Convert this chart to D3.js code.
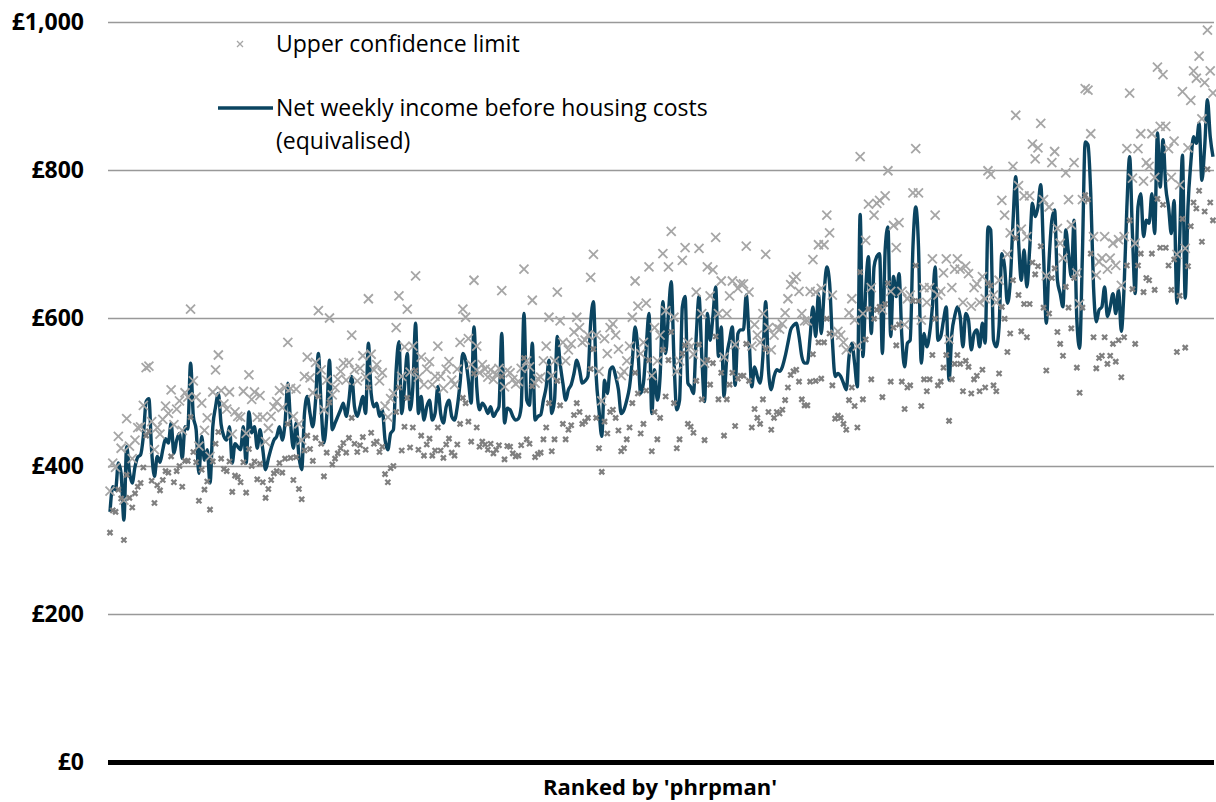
<!DOCTYPE html>
<html>
<head>
<meta charset="utf-8">
<script src="https://cdn.jsdelivr.net/npm/d3@7/dist/d3.min.js"></script>
<style>
  html, body { margin: 0; padding: 0; background: #ffffff; }
  svg { display: block; }
  text { font-family: "Open Sans", "Noto Sans", sans-serif; fill: #000; }
</style>
</head>
<body>
<svg id="chart" width="1216" height="802"></svg>
<script>
// Net weekly income before housing costs (equivalised), areas ranked by 'phrpman'
const incomeBHC = [
  // ranks 1-68
  338,372,368,404,390,327,426,392,377,399,412,415,440,487,491,420,386,413,405,422,
  437,431,458,417,435,444,410,453,450,539,467,449,390,440,408,422,377,453,480,498,
  456,440,435,453,404,430,426,422,453,404,473,445,453,424,449,422,395,410,424,435,
  440,453,435,458,512,458,424,458,
  // ranks 69-138
  413,395,471,494,471,453,489,552,480,431,467,543,449,458,467,476,485,467,489,521,
  480,467,480,494,471,566,498,480,485,467,476,435,422,444,449,530,568,471,507,552,
  476,507,593,471,494,462,480,489,462,471,507,471,458,480,489,467,462,480,512,552,
  543,516,485,588,507,476,485,480,471,480,
  // ranks 139-205
  467,473,480,579,458,478,476,467,462,464,480,606,489,482,566,462,467,469,489,507,
  543,471,489,575,539,512,489,503,510,525,543,530,512,515,521,593,622,521,476,440,
  516,498,530,534,521,503,471,476,489,507,543,588,557,498,512,561,606,471,530,489,
  521,622,552,606,649,543,476,
  // ranks 206-271
  489,615,629,512,507,498,575,629,548,487,606,570,602,642,548,588,494,548,570,588,
  509,579,584,584,631,575,507,534,521,512,548,622,530,503,521,530,528,534,548,566,
  584,590,593,575,548,539,539,575,615,575,633,579,633,669,647,570,521,525,521,512,
  503,548,566,539,507,740,
  // ranks 272-333
  548,638,683,579,669,683,687,552,692,723,575,656,629,660,575,534,566,570,696,750,
  696,539,579,561,579,615,669,570,575,597,615,516,579,602,615,602,561,606,597,557,
  579,584,561,593,566,723,719,570,561,588,687,669,620,647,728,791,705,651,692,642,
  692,755,
  // ranks 334-398
  737,750,780,687,593,678,732,746,651,633,615,719,687,656,732,597,559,687,838,834,
  768,642,595,611,615,642,602,615,633,606,638,582,642,750,818,714,633,750,768,710,
  732,728,768,714,850,777,841,777,750,714,759,620,705,820,627,750,809,845,836,863,
  786,831,895,845,818
];

// Half-width of the 95% confidence interval for each estimate (£ per week)
const ciHalfWidth = [
  28,32,30,36,34,27,38,35,33,36,40,38,42,46,44,40,36,39,38,41,
  44,40,45,39,42,44,38,46,43,73,48,44,37,45,40,43,36,47,50,52,
  46,44,42,47,39,43,41,44,48,40,50,45,47,42,46,44,38,41,43,45,
  47,49,44,48,55,47,43,46,
  44,40,50,53,48,46,51,58,50,45,49,57,47,48,50,52,54,49,51,56,
  50,48,52,55,49,60,53,50,52,48,50,46,44,47,49,57,62,50,54,60,
  51,55,64,49,53,48,51,52,48,50,55,50,47,51,52,49,48,51,55,60,
  58,56,52,63,55,50,52,51,49,50,
  50,51,52,58,49,51,50,50,49,50,52,60,53,52,58,50,51,51,53,55,
  58,51,53,60,57,55,53,54,55,56,58,57,55,55,56,62,64,56,52,48,
  56,54,57,58,56,55,51,52,53,55,58,62,59,54,55,59,63,51,57,53,
  56,65,58,63,68,58,52,
  53,63,66,55,54,53,60,65,58,52,63,60,63,67,58,62,53,58,60,62,
  55,61,62,62,66,60,55,57,56,55,58,64,57,54,56,57,57,58,59,60,
  61,62,63,61,58,57,57,61,64,60,66,61,66,70,68,61,57,57,56,55,
  54,59,60,58,55,78,
  58,67,71,62,70,72,72,59,73,76,61,69,66,69,61,57,60,61,73,79,
  73,58,62,60,62,65,70,61,61,64,65,55,62,64,65,64,60,64,63,59,
  62,62,60,63,60,76,75,61,60,63,72,70,66,68,77,83,74,69,73,68,
  73,80,
  78,80,83,73,64,72,78,79,70,68,66,77,73,70,78,64,60,73,72,74,
  81,68,63,65,66,68,64,66,68,65,68,62,68,79,86,75,68,79,81,75,
  78,77,81,76,89,82,88,82,79,76,80,66,75,86,67,80,85,89,88,91,
  83,87,94,89,86
];

const yTicks = [0, 200, 400, 600, 800, 1000];
const seriesNames = {
  upper: "Upper confidence limit",
  line: ["Net weekly income before housing costs", "(equivalised)"]
};
const xTitle = "Ranked by 'phrpman'";

const ranks = d3.range(1, incomeBHC.length + 1);
const rows = ranks.map((r, i) => ({
  rank: r,
  value: incomeBHC[i],
  upper: incomeBHC[i] + ciHalfWidth[i],
  lower: incomeBHC[i] - ciHalfWidth[i]
}));

const svg = d3.select("#chart");
const plot = { left: 108, right: 1214, top: 22, bottom: 762 };

const x = d3.scaleLinear()
  .domain([1, ranks.length])
  .range([110, 1213]);
const y = d3.scaleLinear()
  .domain([0, 1000])
  .range([plot.bottom, plot.top]);

const COL_LINE = "#0b4460";
const COL_UPPER = "#a6a6a6";
const COL_LOWER = "#7f7f7f";

// Gridlines and y labels
const yAxis = d3.axisLeft(y)
  .tickValues(yTicks)
  .tickSize(-(plot.right - plot.left))
  .tickPadding(24)
  .tickFormat(d => "£" + d3.format(",")(d));

const gy = svg.append("g")
  .attr("transform", `translate(${plot.left},0)`)
  .call(yAxis);
gy.select(".domain").remove();
gy.selectAll(".tick line")
  .attr("stroke", d => d === 0 ? "#000" : "#999")
  .attr("stroke-width", d => d === 0 ? 5 : 1.6);
gy.selectAll(".tick text")
  .attr("font-family", "'Open Sans', sans-serif")
  .attr("font-size", 23)
  .attr("font-weight", 700)
  .attr("fill", "#000");

// Estimate line
const lineGen = d3.line()
  .x(d => x(d.rank))
  .y(d => y(d.value))
  .curve(d3.curveMonotoneX);

svg.append("path")
  .datum(rows)
  .attr("d", lineGen)
  .attr("fill", "none")
  .attr("stroke", COL_LINE)
  .attr("stroke-width", 3.4)
  .attr("stroke-linejoin", "round");

// Cross-shaped markers for the confidence limits
function cross(h) {
  return `M${-h},${-h}L${h},${h}M${-h},${h}L${h},${-h}`;
}

svg.append("g").selectAll("path")
  .data(rows)
  .join("path")
  .attr("transform", d => `translate(${x(d.rank)},${y(d.upper)})`)
  .attr("d", cross(4.5))
  .attr("stroke", COL_UPPER)
  .attr("stroke-width", 1.8)
  .attr("fill", "none");

svg.append("g").selectAll("path")
  .data(rows)
  .join("path")
  .attr("transform", d => `translate(${x(d.rank)},${y(d.lower)})`)
  .attr("d", cross(2.5))
  .attr("stroke", COL_LOWER)
  .attr("stroke-width", 2.3)
  .attr("fill", "none");

// Legend
const legend = svg.append("g");
legend.append("path")
  .attr("transform", "translate(240,44)")
  .attr("d", cross(3))
  .attr("stroke", COL_UPPER)
  .attr("stroke-width", 1.3)
  .attr("fill", "none");
legend.append("text")
  .attr("x", 276).attr("y", 52)
  .attr("font-size", 23)
  .text(seriesNames.upper);

legend.append("line")
  .attr("x1", 218).attr("x2", 273)
  .attr("y1", 108).attr("y2", 108)
  .attr("stroke", COL_LINE)
  .attr("stroke-width", 3.4);
legend.append("text")
  .attr("x", 276).attr("y", 116)
  .attr("font-size", 23)
  .text(seriesNames.line[0]);
legend.append("text")
  .attr("x", 276).attr("y", 149)
  .attr("font-size", 23)
  .text(seriesNames.line[1]);

// X axis title
svg.append("text")
  .attr("x", 660).attr("y", 795)
  .attr("text-anchor", "middle")
  .attr("font-size", 22)
  .attr("font-weight", 700)
  .text(xTitle);
</script>
</body>
</html>
